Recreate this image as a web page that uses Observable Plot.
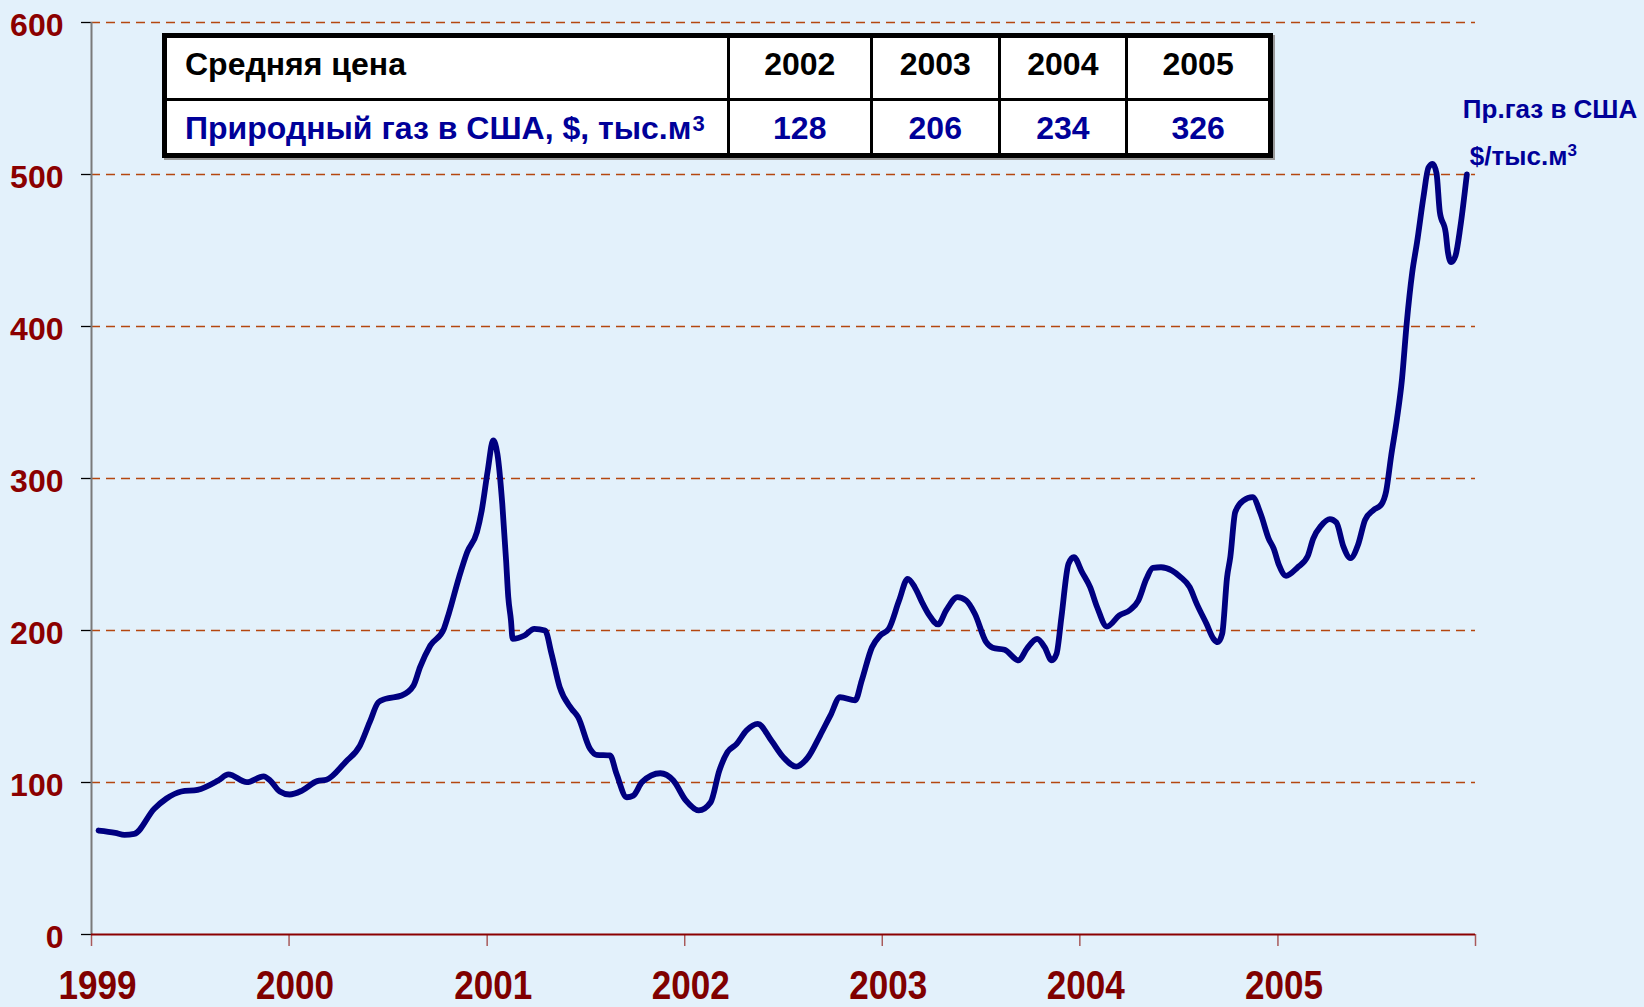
<!DOCTYPE html>
<html>
<head>
<meta charset="utf-8">
<script src="https://cdn.jsdelivr.net/npm/d3@7"></script>
<script src="https://cdn.jsdelivr.net/npm/@observablehq/plot@0.6"></script>
<style>
  html, body { margin: 0; padding: 0; background: #e3f1fb; }
  #wrap { position: relative; width: 1644px; height: 1007px; background: #e3f1fb; overflow: hidden; }
  #chart { position: absolute; left: 0; top: 0; }
  #tbl {
    position: absolute; left: 162px; top: 33px;
    width: 1101px; height: 115px;
    border: 5px solid #000; background: #fff;
    display: grid;
    grid-template-columns: 562.5px 143.5px 127.5px 127.7px 139.8px;
    grid-template-rows: 62.7px 52.3px;
    font-family: "Liberation Sans", Arial, sans-serif; font-weight: bold; font-size: 32px;
    box-shadow: 2px 2px 0 #9a9a9a;
  }
  #tbl div { box-sizing: border-box; display: flex; align-items: center; justify-content: center; white-space: nowrap; }
  #tbl div.first { justify-content: flex-start; padding-left: 18px; }
  #tbl div.r1 { border-bottom: 3px solid #000; color: #000; padding-bottom: 6px; }
  #tbl div.r2 { color: #000099; padding-top: 3px; }
  #tbl div.br { border-right: 3px solid #000; }
  #tbl sup { font-size: 22px; position: relative; top: -4px; line-height: 0; vertical-align: super; margin-left: 1px; }
</style>
</head>
<body>
<div id="wrap">
  <div id="chart"></div>
  <div id="tbl"></div>
</div>
<script>
// ---- data ----
const dates = [
  "1999-01-14","1999-02-14","1999-03-03","1999-03-21","1999-04-27","1999-05-19","1999-06-16","1999-07-16",
  "1999-08-23","1999-09-11","1999-10-15","1999-11-15","1999-11-27","1999-12-15",
  "2000-01-02","2000-01-25","2000-02-22","2000-03-10","2000-04-14","2000-05-11","2000-05-29","2000-06-14",
  "2000-06-27","2000-07-27","2000-08-18","2000-08-30","2000-09-18","2000-10-13","2000-10-22","2000-11-10",
  "2000-11-25","2000-12-13","2000-12-22",
  "2001-01-02","2001-01-12","2001-01-20","2001-01-29","2001-02-05","2001-02-09","2001-02-14","2001-02-17",
  "2001-03-11","2001-03-29","2001-04-18","2001-04-30","2001-05-15","2001-06-06","2001-06-18","2001-07-10",
  "2001-07-22","2001-08-16","2001-08-28","2001-09-16","2001-09-28","2001-10-14","2001-11-17","2001-12-11",
  "2002-01-03","2002-01-27","2002-02-18","2002-03-06","2002-03-21","2002-04-07","2002-04-25","2002-05-16",
  "2002-06-10","2002-07-02","2002-07-26","2002-08-17","2002-09-08","2002-09-27","2002-10-15","2002-11-12",
  "2002-11-24","2002-12-13","2002-12-28",
  "2003-01-13","2003-02-01","2003-02-17","2003-03-02","2003-03-17","2003-03-29","2003-04-14","2003-04-29",
  "2003-05-20","2003-06-05","2003-06-21","2003-07-12","2003-07-24","2003-08-15","2003-09-10","2003-09-25",
  "2003-10-14","2003-10-28","2003-11-10","2003-11-19","2003-11-28","2003-12-11","2003-12-21",
  "2004-01-05","2004-01-20","2004-02-02","2004-02-20","2004-03-14","2004-04-03","2004-04-18","2004-05-03",
  "2004-05-15","2004-05-30","2004-06-19","2004-07-04","2004-07-22","2004-08-04","2004-08-22","2004-09-04",
  "2004-09-12","2004-09-20","2004-09-29","2004-10-05","2004-10-14","2004-10-29","2004-11-15","2004-11-30",
  "2004-12-15","2004-12-24",
  "2005-01-03","2005-01-16","2005-02-06","2005-02-25","2005-03-07","2005-03-22","2005-04-07","2005-04-19",
  "2005-05-02","2005-05-15","2005-05-29","2005-06-11","2005-06-26","2005-07-11","2005-07-20","2005-07-29",
  "2005-08-09","2005-08-18","2005-08-27","2005-09-06","2005-09-15","2005-09-27","2005-10-06","2005-10-14",
  "2005-10-21","2005-10-27","2005-11-07","2005-11-11","2005-11-17","2005-11-25","2005-12-04","2005-12-16"
];
const prices = [
  68.4,66.9,65.6,66.2,82.7,89.3,94.1,95.2,
  101.3,105.3,100.2,104,101.3,94.1,
  92.1,94.7,100.9,101.8,113.4,124.3,139.7,152.8,
  155,157.2,163.8,175.9,190.1,201.1,211,235,
  251.5,264.7,279,
  305,325,316,283,246,222,206.6,194.5,
  196.7,201.1,200,184.6,162.7,148.5,143,122.2,
  118.2,117.8,105.7,90.3,91.4,100.2,106.1,101.3,
  88.2,81.6,87,107.9,120,125.4,134.2,138.6,
  127.6,116.7,110.5,116.7,130.9,144,156.1,154,
  167,189,196.7,
  201.1,219.7,234,228.5,217.5,209.9,204,213.2,
  221.9,219.7,211,192.3,188.6,187.3,180.3,188,
  194.5,189,180.3,184.7,208.8,243.9,248.2,
  238.4,228.5,215.3,202.6,209.9,213.6,219.7,234,
  241.2,241.6,239.5,235.5,228.5,217.5,204.4,194.5,
  192.3,197.8,235,248.2,277.8,285.5,287.7,276.8,
  260.3,254,
  243,236,241.4,248.9,260.3,269,273.3,271,
  255.2,247.6,256.4,272.8,279.1,282.9,291.7,314.4,
  339.5,364.7,402.5,435.2,455.4,485.6,504.5,507,
  500.7,475.5,461.6,449,442.3,446.5,465.5,500
];
const yTicks = [0, 100, 200, 300, 400, 500, 600];
const yearTicks = ["1999-01-01","2000-01-01","2001-01-01","2002-01-01","2003-01-01","2004-01-01","2005-01-01","2006-01-01"];
const seriesLabel = ["Пр.газ в США", "$/тыс.м³"];
const tableHeader = "Средняя цена";
const tableYears = ["2002", "2003", "2004", "2005"];
const tableRowLabel = "Природный газ в США, $, тыс.м³";
const tableValues = [128, 206, 234, 326];

// ---- chart ----
const data = dates.map((d, i) => ({date: new Date(d), value: prices[i]}));
const yearDates = yearTicks.map(d => new Date(d));
const last = data[data.length - 1];

const chart = Plot.plot({
  width: 1644,
  height: 1007,
  marginLeft: 91,
  marginRight: 169,
  marginTop: 22,
  marginBottom: 73,
  style: {background: "transparent", fontFamily: "'Liberation Sans', Arial, sans-serif", overflow: "visible"},
  x: {type: "utc", domain: [yearDates[0], yearDates[yearDates.length - 1]]},
  y: {domain: [0, 600]},
  marks: [
    Plot.ruleY(yTicks.filter(d => d > 0), {stroke: "#b5470f", strokeWidth: 1.3, strokeDasharray: "9,6"}),
    Plot.axisY(yTicks, {tickSize: 10, tickFormat: () => "", stroke: "#000", strokeWidth: 1.3, label: null}),
    Plot.axisY(yTicks, {tickSize: 0, tickPadding: 28, fill: "#8b0000", fontSize: 32, fontWeight: "bold", dy: 3.5, label: null}),
    Plot.axisX(yearDates, {tickSize: 12, tickFormat: () => "", stroke: "#a85a5a", strokeWidth: 1.5, label: null}),
    Plot.axisX(yearDates.slice(0, -1), {tickSize: 0, tickPadding: 36, fill: "#800000", fontSize: 40, fontWeight: "bold",
      dx: 6, tickFormat: d => d3.utcFormat("%Y")(d), label: null}),
    Plot.ruleX([yearDates[0]], {stroke: "#7a7a7a", strokeWidth: 2}),
    Plot.ruleY([0], {stroke: "#8b0000", strokeWidth: 2}),
    Plot.line(data, {x: "date", y: "value", stroke: "#000080", strokeWidth: 5.8, curve: "monotone-x",
      strokeLinejoin: "round", strokeLinecap: "round"}),
    Plot.text([last], {x: "date", y: "value", text: () => seriesLabel[0], textAnchor: "start", lineAnchor: "bottom",
      dx: -4, dy: -57, fill: "#000099", fontSize: 26, fontWeight: "bold"}),
    Plot.text([last], {x: "date", y: "value", text: () => seriesLabel[1], textAnchor: "start", lineAnchor: "bottom",
      dx: 3, dy: -10, fill: "#000099", fontSize: 26, fontWeight: "bold"})
  ]
});
document.getElementById("chart").appendChild(chart);

// condensed year labels (narrow bold face like the original)
chart.querySelectorAll('g[aria-label="x-axis tick label"] text').forEach(t => {
  t.setAttribute("textLength", "78");
  t.setAttribute("lengthAdjust", "spacingAndGlyphs");
});
// superscript 3 in the series label
chart.querySelectorAll("text").forEach(t => {
  if (t.textContent === seriesLabel[1]) {
    const base = seriesLabel[1].replace("³", "");
    t.textContent = base;
    const s = document.createElementNS("http://www.w3.org/2000/svg", "tspan");
    s.setAttribute("font-size", "17");
    s.setAttribute("dy", "-9");
    s.textContent = "3";
    t.appendChild(s);
  }
});

// ---- table ----
const tbl = document.getElementById("tbl");
function cell(text, cls) {
  const d = document.createElement("div");
  d.className = cls;
  const parts = String(text).split("³");
  d.appendChild(document.createTextNode(parts[0]));
  if (parts.length > 1) {
    const s = document.createElement("sup");
    s.textContent = "3";
    d.appendChild(s);
    d.appendChild(document.createTextNode(parts[1]));
  }
  tbl.appendChild(d);
}
cell(tableHeader, "r1 first br");
tableYears.forEach((y, i) => cell(y, "r1" + (i < tableYears.length - 1 ? " br" : "")));
cell(tableRowLabel, "r2 first br");
tableValues.forEach((v, i) => cell(String(v), "r2" + (i < tableValues.length - 1 ? " br" : "")));
</script>
</body>
</html>
